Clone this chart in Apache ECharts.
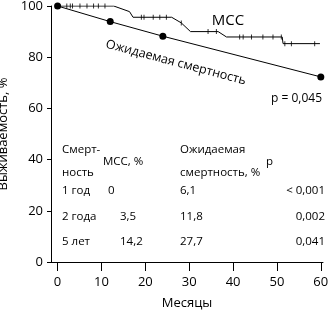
<!DOCTYPE html>
<html>
<head>
<meta charset="utf-8">
<script src="https://cdn.jsdelivr.net/npm/echarts@6/dist/echarts.min.js"></script>
<style>
  html, body { margin: 0; padding: 0; background: #fff; }
  #chart { width: 334px; height: 311px; }
</style>
</head>
<body>
<div id="chart"></div>
<script>
// МСС (Kaplan-Meier)
const mccMonths = [0, 12.8, 16.4, 17.2, 26.0, 28.2, 30.3, 36.6, 38.5, 51.2, 51.4, 59.8];
const mccSurv = [100, 100, 97.8, 95.6, 95.6, 93.4, 90.0, 90.0, 87.9, 87.9, 85.3, 85.3];
// censored marks
const censMonths = [2.1, 2.9, 3.4, 5.1, 6.7, 8.2, 9.3, 10.8,
  19.1, 19.7, 21.8, 23.3, 24.8, 28.2, 34.3, 36.2,
  41.5, 42.3, 44.2, 46.8, 49.1, 51.0, 51.8, 53.3, 58.6];
const censSurv = [100, 100, 100, 100, 100, 100, 100, 100,
  95.6, 95.6, 95.6, 95.6, 95.6, 93.4, 90.0, 90.0,
  87.9, 87.9, 87.9, 87.9, 87.9, 87.9, 85.3, 85.3, 85.3];
// expected mortality
const expMonths = [0, 12, 24, 60];
const expSurv = [100, 93.9, 88.2, 72.3];

const xTicks = [0, 10, 20, 30, 40, 50, 60];

// table
const tableHead = ['Смерт-\nность', 'МСС, %', 'Ожидаемая\nсмертность, %', 'р'];
const periods = ['1 год', '2 года', '5 лет'];
const mccMort = ['0', '3,5', '14,2'];
const expMort = ['6,1', '11,8', '27,7'];
const pVals = ['< 0,001', '0,002', '0,041'];

const FONT = 'Open Sans';
const chart = echarts.init(document.getElementById('chart'));

const txt = (x, y, text, extra) => ({
  type: 'text', x: x, y: y,
  style: Object.assign({ text: text, font: '11.5px "' + FONT + '"', fill: '#000',
    textAlign: 'left', textVerticalAlign: 'middle', lineHeight: 23 }, extra || {})
});

const graphics = [
  txt(228, 21, 'МСС', { textAlign: 'center', font: '15px "' + FONT + '"' }),
  Object.assign(txt(106, 44, 'Ожидаемая смертность', { font: '12.5px "' + FONT + '"' }), { rotation: -0.26 }),
  txt(322, 99, 'p = 0,045', { textAlign: 'right', font: '12px "' + FONT + '"' }),
  txt(62, 161.5, tableHead[0]),
  txt(103, 162, tableHead[1]),
  txt(180, 161.5, tableHead[2]),
  txt(266, 162, tableHead[3])
];
const rowY = [191, 217, 242];
periods.forEach((p, i) => {
  graphics.push(txt(62, rowY[i], p));
  graphics.push(txt(i === 0 ? 108 : 120, rowY[i], mccMort[i]));
  graphics.push(txt(180, rowY[i], expMort[i]));
  graphics.push(txt(325, rowY[i], pVals[i], { textAlign: 'right' }));
});

const option = {
  backgroundColor: '#fff',
  animation: false,
  textStyle: { fontFamily: FONT },
  grid: { left: 51, right: 11, top: 6, bottom: 49, outerBoundsMode: 'none', containLabel: false },
  xAxis: {
    type: 'value',
    min: -1.5,
    max: 60.5,
    name: 'Месяцы',
    nameLocation: 'middle',
    nameGap: 35,
    nameTextStyle: { color: '#000', fontSize: 13, fontFamily: FONT },
    axisLine: { onZero: false, lineStyle: { color: '#000', width: 1 } },
    axisTick: { inside: false, length: 9, customValues: xTicks, lineStyle: { color: '#000' } },
    axisLabel: { customValues: xTicks, color: '#000', fontSize: 13, margin: 14, fontFamily: FONT },
    splitLine: { show: false }
  },
  yAxis: {
    type: 'value',
    min: 0,
    max: 100,
    interval: 20,
    name: 'Выживаемость, %',
    nameLocation: 'middle',
    nameGap: 30,
    nameTextStyle: { color: '#000', fontSize: 13, fontFamily: FONT },
    axisLine: { show: true, onZero: false, lineStyle: { color: '#000', width: 1 } },
    axisTick: { show: true, length: 4, lineStyle: { color: '#000' } },
    axisLabel: { color: '#000', fontSize: 13, margin: 8, fontFamily: FONT },
    splitLine: { show: false }
  },
  series: [
    {
      type: 'line',
      data: mccMonths.map((m, i) => [m, mccSurv[i]]),
      showSymbol: false,
      lineStyle: { color: '#000', width: 1 },
      z: 3
    },
    {
      type: 'scatter',
      data: censMonths.map((m, i) => [m, censSurv[i]]),
      symbol: 'rect',
      symbolSize: [1, 5],
      itemStyle: { color: '#000' },
      z: 4
    },
    {
      type: 'line',
      data: expMonths.map((m, i) => [m, expSurv[i]]),
      symbol: 'circle',
      symbolSize: 7,
      showAllSymbol: true,
      itemStyle: { color: '#000' },
      lineStyle: { color: '#000', width: 1 },
      z: 3
    }
  ],
  graphic: graphics
};
chart.setOption(option);
</script>
</body>
</html>
